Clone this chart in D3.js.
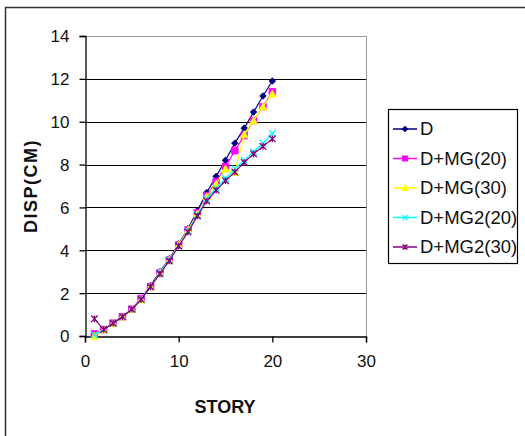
<!DOCTYPE html>
<html>
<head>
<meta charset="utf-8">
<script src="https://cdn.jsdelivr.net/npm/d3@7"></script>
<style>
  body { margin: 0; background: #fff; }
  text { font-family: "Liberation Sans", Arial, sans-serif; fill: #111; }
</style>
</head>
<body>
<div id="chart"></div>
<script>
// =====================
// DATA
// =====================
const stories = [1, 2, 3, 4, 5, 6, 7, 8, 9, 10, 11, 12, 13, 14, 15, 16, 17, 18, 19, 20];

const dispD     = [0.05, 0.3, 0.6, 0.9, 1.25, 1.75, 2.35, 3.0, 3.6, 4.3, 5.0, 5.85, 6.7, 7.45, 8.2, 9.0, 9.7, 10.45, 11.2, 11.9];
const dispMG20  = [0.1, 0.3, 0.6, 0.9, 1.25, 1.75, 2.3, 2.95, 3.55, 4.25, 4.95, 5.75, 6.55, 7.2, 7.9, 8.65, 9.35, 10.05, 10.7, 11.4];
const dispMG30  = [0.0, 0.3, 0.6, 0.9, 1.25, 1.7, 2.3, 2.95, 3.55, 4.25, 4.95, 5.7, 6.5, 7.1, 7.8, 7.65, 9.4, 10.05, 10.7, 11.3];
const dispMG220 = [0.05, 0.3, 0.6, 0.9, 1.25, 1.7, 2.3, 2.95, 3.55, 4.2, 4.9, 5.65, 6.4, 6.9, 7.35, 7.8, 8.2, 8.6, 9.0, 9.45];
const dispMG230 = [0.8, 0.3, 0.6, 0.9, 1.25, 1.7, 2.3, 2.9, 3.5, 4.2, 4.85, 5.6, 6.3, 6.8, 7.25, 7.65, 8.1, 8.5, 8.85, 9.2];

const seriesNames = ["D", "D+MG(20)", "D+MG(30)", "D+MG2(20)", "D+MG2(30)"];
const seriesValues = [dispD, dispMG20, dispMG30, dispMG220, dispMG230];
const seriesColors = ["#000080", "#ff00ff", "#ffff00", "#00ffff", "#800080"];
const seriesMarkers = ["diamond", "square", "triangle", "x", "star"];

const xTicks = [0, 10, 20, 30];
const yTicks = [0, 2, 4, 6, 8, 10, 12, 14];

// =====================
// SVG SETUP
// =====================
const W = 525, H = 436;
const plot = { left: 85, right: 366, top: 36, bottom: 336 };

const svg = d3.select("#chart").append("svg")
  .attr("width", W)
  .attr("height", H);

// outer chart border
svg.append("rect")
  .attr("x", 5.5).attr("y", 7.5)
  .attr("width", W + 10).attr("height", H + 10)
  .attr("fill", "none")
  .attr("stroke", "#333")
  .attr("stroke-width", 1.5);

// =====================
// SCALES
// =====================
const x = d3.scaleLinear().domain([0, 30]).range([plot.left, plot.right]);
const y = d3.scaleLinear().domain([0, 14]).range([plot.bottom, plot.top]);

// =====================
// GRID + PLOT BORDER
// =====================
svg.append("g")
  .selectAll("line")
  .data(yTicks.filter(t => t > 0 && t < 14))
  .join("line")
  .attr("x1", plot.left).attr("x2", plot.right)
  .attr("y1", d => Math.round(y(d)) + 0.5)
  .attr("y2", d => Math.round(y(d)) + 0.5)
  .attr("stroke", "#000")
  .attr("stroke-width", 1);

svg.append("path")
  .attr("d", `M${plot.left},${plot.top + 0.5}H${plot.right + 0.5}V${plot.bottom}`)
  .attr("fill", "none")
  .attr("stroke", "#999")
  .attr("stroke-width", 1);

// =====================
// AXES
// =====================
const xAxis = svg.append("g")
  .attr("transform", `translate(0,${plot.bottom + 0.5})`)
  .call(d3.axisBottom(x).tickValues(xTicks).tickSize(6).tickPadding(12));

const yAxis = svg.append("g")
  .attr("transform", `translate(${plot.left + 0.5},0)`)
  .call(d3.axisLeft(y).tickValues(yTicks).tickSize(6).tickPadding(10));

[xAxis, yAxis].forEach(a => {
  a.select(".domain").attr("stroke", "#000").attr("stroke-width", 1.3);
  a.selectAll(".tick line").attr("stroke", "#000").attr("stroke-width", 1.3);
  a.selectAll(".tick text")
    .attr("font-family", "Liberation Sans, Arial, sans-serif")
    .attr("font-size", 17)
    .attr("fill", "#111");
});
yAxis.selectAll(".tick text").attr("dy", "0.35em");

// =====================
// SERIES
// =====================
const line = d3.line()
  .x(d => x(d.s))
  .y(d => y(d.v));

function markerPath(type, r) {
  switch (type) {
    case "diamond": return `M0,${-r}L${r},0L0,${r}L${-r},0Z`;
    case "square": return `M${-r},${-r}H${r}V${r}H${-r}Z`;
    case "triangle": return `M0,${-r - 0.5}L${r + 0.5},${r}L${-r - 0.5},${r}Z`;
    case "x": return `M${-r},${-r}L${r},${r}M${-r},${r}L${r},${-r}`;
    case "star": return `M${-r},${-r}L${r},${r}M${-r},${r}L${r},${-r}M0,${-r}V${r}`;
  }
}

const seriesData = seriesNames.map((name, i) => ({
  name,
  color: seriesColors[i],
  marker: seriesMarkers[i],
  points: stories.map((s, j) => ({ s, v: seriesValues[i][j] }))
}));

const sg = svg.append("g")
  .selectAll("g")
  .data(seriesData)
  .join("g");

sg.append("path")
  .attr("d", d => line(d.points))
  .attr("fill", "none")
  .attr("stroke", d => d.color)
  .attr("stroke-width", 1.2);

sg.selectAll(".mk")
  .data(d => d.points.map(p => ({ ...p, color: d.color, marker: d.marker })))
  .join("path")
  .attr("class", "mk")
  .attr("transform", d => `translate(${x(d.s)},${y(d.v)})`)
  .attr("d", d => markerPath(d.marker, 3.3))
  .attr("fill", d => (d.marker === "x" || d.marker === "star") ? "none" : d.color)
  .attr("stroke", d => d.color)
  .attr("stroke-width", d => (d.marker === "x" || d.marker === "star") ? 1.3 : 0.8);

// =====================
// AXIS TITLES
// =====================
svg.append("text")
  .attr("x", 225).attr("y", 413)
  .attr("text-anchor", "middle")
  .attr("font-size", 18)
  .attr("font-weight", "bold")
  .text("STORY");

svg.append("text")
  .attr("transform", "translate(37,186) rotate(-90)")
  .attr("text-anchor", "middle")
  .attr("font-size", 18)
  .attr("font-weight", "bold")
  .attr("letter-spacing", 1.5)
  .text("DISP(CM)");

// =====================
// LEGEND
// =====================
const legend = svg.append("g");

legend.append("rect")
  .attr("x", 388.5).attr("y", 109.5)
  .attr("width", 129).attr("height", 154)
  .attr("fill", "#fff")
  .attr("stroke", "#000")
  .attr("stroke-width", 1.2);

const legendItems = legend.selectAll(".legend-item")
  .data(seriesData)
  .join("g")
  .attr("class", "legend-item")
  .attr("transform", (d, i) => `translate(0, ${129 + i * 29.5})`);

legendItems.append("line")
  .attr("x1", 393).attr("x2", 417)
  .attr("stroke", d => d.color)
  .attr("stroke-width", 1.5);

legendItems.append("path")
  .attr("transform", "translate(405,0)")
  .attr("d", d => markerPath(d.marker, 2.5))
  .attr("fill", d => (d.marker === "x" || d.marker === "star") ? "none" : d.color)
  .attr("stroke", d => d.color)
  .attr("stroke-width", 1.2);

legendItems.append("text")
  .attr("x", 420)
  .attr("dy", "0.35em")
  .attr("font-size", 18.5)
  .text(d => d.name);
</script>
</body>
</html>
